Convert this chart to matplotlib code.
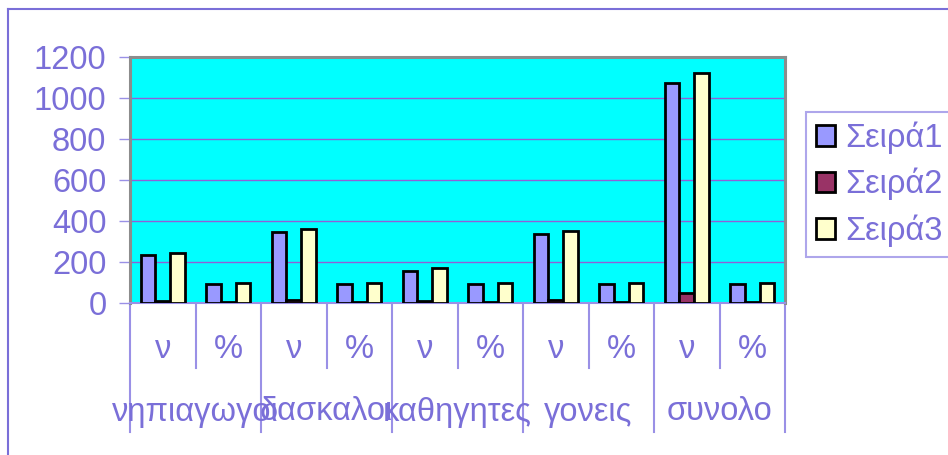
import matplotlib
matplotlib.use("Agg")
import matplotlib.pyplot as plt
import matplotlib.transforms as mtransforms
from matplotlib.lines import Line2D
from matplotlib.patches import Patch
import numpy as np

plt.rcParams['font.family'] = ['Liberation Sans', 'DejaVu Sans']

# δεδομένα
groups = ["νηπιαγωγοι", "δασκαλοι", "καθηγητες", "γονεις", "συνολο"]
sub_labels = ["ν", "%"]
series_names = ["Σειρά1", "Σειρά2", "Σειρά3"]
seira1 = [234, 94, 345, 94, 155, 94, 335, 94, 1073, 92]
seira2 = [10, 4, 15, 4, 10, 4, 15, 4, 50, 4]
seira3 = [244, 97, 362, 97, 170, 97, 350, 97, 1123, 97]
yticks = [0, 200, 400, 600, 800, 1000, 1200]

# στυλ
text_color = "#7A6FD8"
line_color = "#9A90E6"
grid_color = "#9060D8"
frame_color = "#8C8C8C"
bar_colors = ["#9999FF", "#993366", "#FFFFCC"]
font_size = 23.5

fig = plt.figure(figsize=(9.48, 4.55), dpi=100)
ax = fig.add_axes([130 / 948, 1 - 303 / 455, 655 / 948, 246 / 455])
ax.set_facecolor("#00FFFF")

n_cat = len(seira1)
x = np.arange(n_cat)
w = 1 / 4.5
for i, vals in enumerate([seira1, seira2, seira3]):
    ax.bar(x + (i - 1) * w, vals, width=w, color=bar_colors[i],
           edgecolor="black", linewidth=2, zorder=3)

ax.set_xlim(-0.5, n_cat - 0.5)
ax.set_ylim(0, 1200)
ax.set_yticks(yticks)
ax.set_yticklabels([str(v) for v in yticks], fontsize=font_size, color=text_color)
ax.tick_params(axis="y", length=8, width=1, color=line_color, pad=9)
ax.set_xticks([])
ax.grid(axis="y", color=grid_color, linewidth=1, zorder=1)
for s in ax.spines.values():
    s.set_color(frame_color)
    s.set_linewidth(2.2)
ax.spines["bottom"].set_color(line_color)
ax.spines["bottom"].set_linewidth(1.5)

# ετικέτες κατηγοριών σε δύο επίπεδα
trans = mtransforms.blended_transform_factory(ax.transData, fig.transFigure)
y_top = 1 - 303 / 455
y_inner = 1 - 368 / 455
y_outer = 1 - 432 / 455
for b in range(n_cat + 1):
    xb = b - 0.5
    y_end = y_outer if b % 2 == 0 else y_inner
    ax.add_line(Line2D([xb, xb], [y_top, y_end], transform=trans,
                       color=line_color, linewidth=1.5, clip_on=False))
for c in range(n_cat):
    ax.text(c, 1 - 350 / 455, sub_labels[c % 2], transform=trans,
            ha="center", va="center", fontsize=font_size, color=text_color)
for g, name in enumerate(groups):
    ax.text(2 * g + 0.5, 1 - 412 / 455, name, transform=trans,
            ha="center", va="center", fontsize=font_size, color=text_color)

# εξωτερικό πλαίσιο
fig.add_artist(Line2D([8 / 948, 1], [1 - 9 / 455, 1 - 9 / 455],
                      transform=fig.transFigure, color=text_color, linewidth=1.5))
fig.add_artist(Line2D([8 / 948, 8 / 948], [0, 1 - 9 / 455],
                      transform=fig.transFigure, color=text_color, linewidth=1.5))

# υπόμνημα
handles = [Patch(facecolor=c, edgecolor="black", linewidth=2) for c in bar_colors]
leg = fig.legend(handles, series_names, loc="upper left",
                 bbox_to_anchor=(806 / 948, 1 - 112 / 455),
                 fontsize=font_size, frameon=True, fancybox=False,
                 handlelength=0.6, handleheight=0.6, handletextpad=0.3,
                 labelspacing=0.42, borderpad=0.3, borderaxespad=0)
leg.get_frame().set_edgecolor(line_color)
leg.get_frame().set_linewidth(1.5)
for t in leg.get_texts():
    t.set_color(text_color)

fig.savefig("out.png", dpi=100)
